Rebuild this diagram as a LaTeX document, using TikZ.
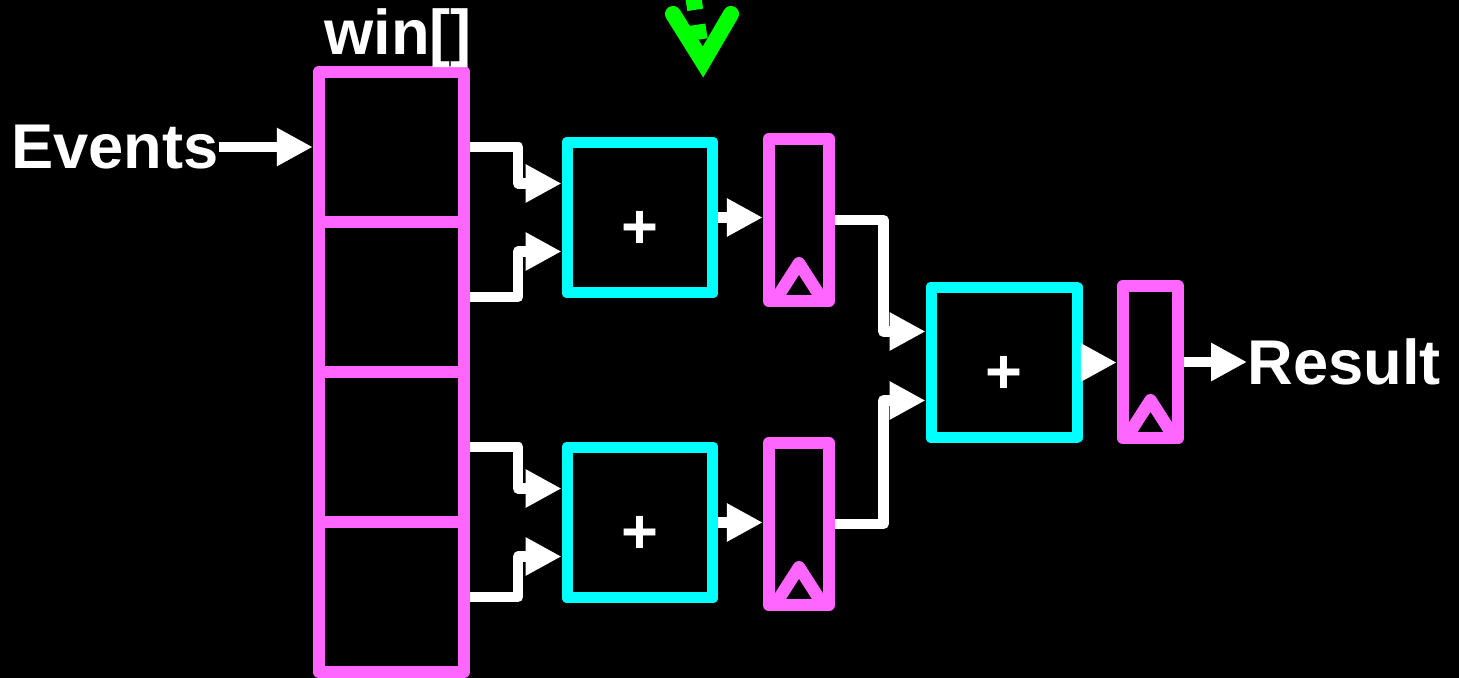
\documentclass[tikz,border=0pt]{standalone}
\usepackage{fontspec}
\setmainfont{Liberation Sans}
\usetikzlibrary{positioning, arrows.meta, calc}

\definecolor{winpink}{RGB}{255,102,255}
\definecolor{addcyan}{RGB}{0,255,255}
\definecolor{hintgreen}{RGB}{0,255,0}

\begin{document}
\begin{tikzpicture}[x=0.02cm, y=-0.02cm]
    \tikzset{
        win cell/.style={
                draw=winpink, line width=0.25cm, line join=round,
                minimum width=2.9cm, minimum height=3cm, inner sep=0pt
            },
        adder box/.style={
                draw=addcyan, line width=0.22cm, line join=round,
                minimum width=2.92cm, minimum height=3.02cm,
                text=white, font=\fontsize{36}{40}\selectfont\bfseries,
                text height=1.24cm, text depth=0pt
            },
        reg box/.style={
                draw=winpink, line width=0.25cm, line join=round,
                minimum width=1.2cm, minimum height=3.24cm
            },
        reg mark/.style={
                draw=winpink, line width=0.25cm, line join=round
            },
        wire/.style={
                draw=white, line width=0.21cm, line join=round,
                -{Triangle[length=0.72cm, width=0.72cm]}
            },
        big label/.style={
                text=white, font=\fontsize{36}{40}\selectfont\bfseries, inner sep=0pt
            },
        hint/.style={
                draw=hintgreen, line width=0.32cm
            }
    }

    \fill[black] (0,0) rectangle (1459,678);
    \clip (0,0) rectangle (1459,678);

    % window buffer
    \node[win cell] (c1) at (391.5,147) {};
    \node[win cell, below=-0.25cm of c1] (c2) {};
    \node[win cell, below=-0.25cm of c2] (c3) {};
    \node[win cell, below=-0.25cm of c3] (c4) {};
    \node[big label, anchor=base] (win) at (398,55) {win[]};

    % adders and registers
    \node[adder box] (a1) at (640,217.5) {+};
    \node[adder box] (a2) at (640,522.5) {+};
    \node[adder box] (a3) at (1004,362.5) {+};
    \node[reg box] (r1) at (799,220) {};
    \node[reg box] (r2) at (799,524) {};
    \node[reg box, minimum width=1.1cm, minimum height=3.04cm] (r3) at (1150.5,362) {};
    \foreach \r in {r1,r2,r3}
        \draw[reg mark] ($(\r.south)+(-23,-8)$) -- ($(\r.south)+(0,-44)$) -- ($(\r.south)+(23,-8)$);

    \node[big label, anchor=east] (ev) at (219,147) {Events};
    \node[big label, anchor=west] (res) at (1247,362) {Result};

    % connections
    \draw[wire] (ev.east) -- (c1.west);
    \draw[wire] (c1.east) -- ++(48,0) |- ($(a1.west)+(0,-34)$);
    \draw[wire] (c2.east) -- ++(48,0) |- ($(a1.west)+(0,34)$);
    \draw[wire] (c3.east) -- ++(48,0) |- ($(a2.west)+(0,-34)$);
    \draw[wire] (c4.east) -- ++(48,0) |- ($(a2.west)+(0,34)$);
    \draw[wire] (a1.east) -- (a1.east -| r1.west);
    \draw[wire] (a2.east) -- (a2.east -| r2.west);
    \draw[wire] (r1.east) -- ++(48,0) |- ($(a3.west)+(0,-31)$);
    \draw[wire] (r2.east) -- ++(48,0) |- ($(a3.west)+(0,38)$);
    \draw[wire] (a3.east) -- (a3.east -| r3.west);
    \draw[wire] (r3.east) -- (res.west);

    % pointer from above
    \coordinate (hint top) at (693,-5);
    \coordinate (hint tip) at (703,62);
    \coordinate (hint left) at (673,14);
    \coordinate (hint right) at (731,14);
    \draw[hint, dash pattern={on 0.3cm off 0.3cm}] (hint top) -- (hint tip);
    \draw[hint, line cap=round, line join=miter] (hint left) -- (hint tip) -- (hint right);
\end{tikzpicture}
\end{document}
